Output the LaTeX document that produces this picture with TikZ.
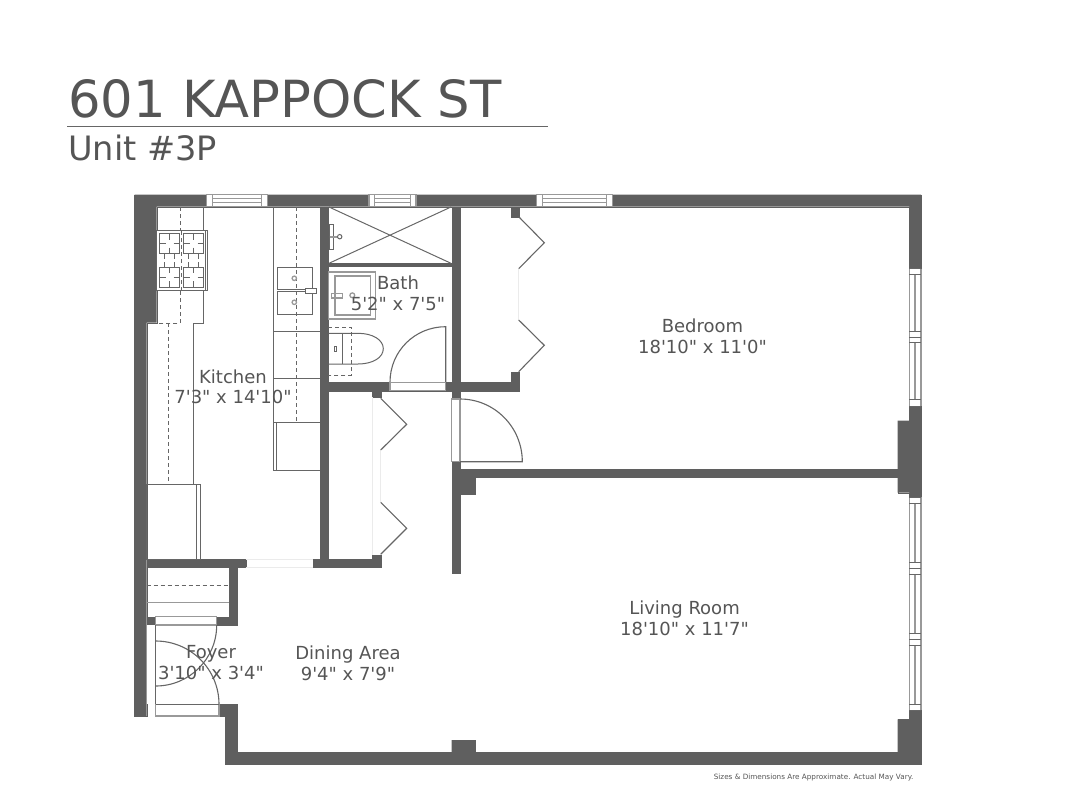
\documentclass[tikz,border=0pt]{standalone}
\usepackage{fontspec}
\setmainfont{DejaVu Sans}
\font\roomfont="DejaVu Sans" at 18pt
\newcommand{\roomtext}{\roomfont\setlength{\baselineskip}{20.5pt}}
\definecolor{wallcol}{HTML}{5F5F5F}
\definecolor{textcol}{HTML}{555555}
\definecolor{linecol}{HTML}{666666}
\definecolor{framecol}{HTML}{999999}
\tikzset{
  wall/.style={fill=wallcol,draw=wallcol,line width=0.4pt},
  fixture/.style={draw=linecol,line width=1pt},
  hidden/.style={draw=linecol,line width=0.9pt,dash pattern=on 4pt off 3pt},
  swing/.style={draw=linecol,line width=1.1pt},
  frame/.style={draw=framecol,line width=1.2pt,fill=white},
  opening/.style={draw=black!8,line width=0.5pt},
  roomlabel/.style={text=textcol,font=\roomtext,align=center}
}
\begin{document}
\begin{tikzpicture}[x=1pt,y=-1pt]
        \useasboundingbox (0,0) rectangle (1067,800);
        % heading
        \node[text=textcol,font=\fontsize{51.2}{56}\selectfont,anchor=base west,inner sep=0pt] (title) at (68,117) {601 KAPPOCK ST};
        \draw[draw=linecol,line width=0.8pt] (67,126.5) -- (548,126.5);
        \node[text=textcol,font=\fontsize{33.6}{36}\selectfont,anchor=base west,inner sep=0pt] (unit) at (68,160.5) {Unit \#3P};
        % outer walls
        \fill[wall] (134.5,194.7) -- (921,194.7) -- (921,764) -- (225.3,764) -- (225.3,716) -- (219,716)
          -- (219,704.3) -- (237.3,704.3) -- (237.3,752.3) -- (451.7,752.3) -- (451.7,740) -- (475,740)
          -- (475,752.3) -- (897.7,752.3) -- (897.7,719.3) -- (909.3,719.3) -- (909.3,492.7) -- (897.7,492.7)
          -- (897.7,420.7) -- (909.3,420.7) -- (909.3,206.7) -- (156.7,206.7) -- (156.7,322.7) -- (146.7,322.7)
          -- (146.7,716) -- (134.5,716) -- cycle;
        % inner walls
        \fill[wall] (320,206.7) rectangle (328.3,559.3);
        \fill[wall] (451.7,206.7) rectangle (460,399);
        \fill[wall] (328.3,263.3) rectangle (451.7,266);
        \fill[wall] (328.3,382.3) rectangle (518.7,390.7);
        \fill[wall] (510.7,206.7) rectangle (518.7,216.7);
        \fill[wall] (510.7,371.7) rectangle (518.7,382.3);
        \fill[wall] (372.3,390.7) rectangle (380.7,397.3);
        \fill[wall] (372.3,555) rectangle (380.7,559.3);
        \fill[wall] (312.7,559.3) rectangle (380.7,567.3);
        \fill[wall] (146.7,559.3) rectangle (245.7,567.3);
        \fill[wall] (229.3,567.3) rectangle (237.3,625);
        \fill[wall] (216.7,616.7) rectangle (229.3,625);
        \fill[wall] (146.7,616.7) rectangle (155.7,625);
        \fill[wall] (451.7,461.7) rectangle (460,573.3);
        \fill[wall] (460,469.3) rectangle (897.7,477.3);
        \fill[wall] (460,477.3) rectangle (475,494);
        % windows, top wall
        \foreach \xa/\xb in {206.7/267.3,369/416,536.7/612.3} {
          \draw[frame] (\xa,194.7) rectangle (\xb,206.7);
          \draw[draw=framecol,line width=1.2pt] (\xa+5.5,194.7) -- (\xa+5.5,206.7) (\xb-5.5,194.7) -- (\xb-5.5,206.7);
          \draw[draw=framecol,line width=1.2pt] (\xa+5.5,198.5) -- (\xb-5.5,198.5) (\xa+5.5,202.7) -- (\xb-5.5,202.7);
        }
        % windows, right wall
        \foreach \ya/\yb in {268.7/406,497.3/710} {
          \fill[white] (909.3,\ya) rectangle (921,\yb);
          \draw[draw=framecol,line width=1.6pt] (909.3,\ya) -- (909.3,\yb) (915,\ya) -- (915,\yb) (921,\ya) -- (921,\yb);
        }
        \foreach \ya/\yb in {268.7/274.3,331.3/342.7,399.3/406,497.3/503.3,562.3/574.3,633.3/645.3,704/710} {
          \fill[white] (910,\ya) rectangle (920.2,\yb);
          \draw[fixture] (909.3,\ya) -- (921,\ya) (909.3,\yb) -- (921,\yb);
        }
        \foreach \ym in {337,568.3,639.3}
          \draw[fixture] (909.3,\ym) -- (921,\ym);
        % plain openings
        \draw[opening] (245.7,559.3) -- (312.7,559.3) (245.7,567.3) -- (312.7,567.3);
        \draw[opening] (372.3,397.3) -- (372.3,555) (380.7,450) -- (380.7,502.3);
        \draw[opening] (518.7,268.7) -- (518.7,320);
        % kitchen, left run
        \draw[fixture] (203.3,206.7) -- (203.3,323.3) -- (193.3,323.3) -- (193.3,484.3);
        \draw[hidden] (180,207) -- (180,323.3) -- (156.7,323.3);
        \draw[hidden] (168.3,323.3) -- (168.3,484.3);
        \draw[fixture] (146.7,484.3) rectangle (200.3,559.3);
        \draw[fixture] (196.7,484.3) -- (196.7,559.3);
        % stove
        \fill[white] (156.7,230.7) rectangle (207.3,290.7);
        \draw[fixture] (156.7,230.7) rectangle (207.3,290.7);
        \draw[fixture] (205,230.7) -- (205,290.7);
        \draw[hidden] (181.6,231) -- (181.6,290);
        \foreach \xc in {169.6,193.6} {
          \foreach \yc/\dir in {243.6/1,277.4/-1} {
            \draw[fixture] (\xc-10,\yc-10) rectangle (\xc+10,\yc+10);
            \draw[fixture] (\xc,\yc-10) -- (\xc,\yc-4) (\xc,\yc+4) -- (\xc,\yc+10);
            \draw[fixture] (\xc-10,\yc) -- (\xc-4,\yc) (\xc+4,\yc) -- (\xc+10,\yc);
            \draw[fixture] (\xc-5,\yc+\dir*10) -- (\xc-5,\yc+\dir*15) (\xc+5,\yc+\dir*10) -- (\xc+5,\yc+\dir*15);
          }
        }
        % kitchen, right run
        \draw[fixture] (273.3,206.7) -- (273.3,470) -- (320,470);
        \draw[fixture] (273.3,331.3) -- (320,331.3) (273.3,378.3) -- (320,378.3) (273.3,422.7) -- (320,422.7);
        \draw[fixture] (276.7,422.7) -- (276.7,470);
        \draw[hidden] (296.7,207) -- (296.7,422.7);
        \draw[fixture] (277,267.3) rectangle (312.7,289.3);
        \draw[fixture] (277,291.7) rectangle (312.7,314.3);
        \draw[draw=framecol,line width=1.3pt] (294.3,278.3) circle (2.2);
        \draw[draw=framecol,line width=1.3pt] (294.3,302.3) circle (2.2);
        \draw[fixture,fill=white] (305,288.3) rectangle (316.7,293);
        % shower
        \draw[fixture] (329,207) -- (451,263.3) (451,207) -- (329,263.3);
        \draw[fixture] (329.5,224.3) rectangle (333,249.3);
        \draw[draw=framecol,line width=1.6pt] (329.5,236.7) -- (338,236.7);
        \draw[fixture] (339.7,236.7) circle (2.2);
        % bath sink
        \draw[draw=framecol,line width=1.2pt] (328.3,272) rectangle (375.3,319);
        \draw[draw=framecol,line width=1.2pt] (335,276) rectangle (370.7,315);
        \draw[draw=framecol,line width=1.3pt] (352.3,295.3) circle (2.4);
        \draw[draw=framecol,line width=1.2pt] (331.3,293.3) rectangle (342.7,298);
        % toilet
        \draw[fixture] (328.3,333.3) -- (358,333.3) .. controls (373,333.3) and (383.3,340) .. (383.3,348.7)
          .. controls (383.3,357.4) and (373,364) .. (358,364) -- (328.3,364);
        \draw[fixture] (342.3,333.3) -- (342.3,364);
        \draw[fixture] (334.3,346) rectangle (336.3,351);
        \draw[hidden] (328.3,327.7) -- (351.7,327.7) -- (351.7,375) -- (328.3,375);
        % door leaves
        \draw[swing] (390,382.3) .. controls (390,351) and (415,326.7) .. (445.7,326.7) -- (445.7,382.3);
        \draw[frame] (390,382.3) rectangle (445.7,390.7);
        \draw[frame] (451.7,399) rectangle (460,461.7);
        \draw[swing] (460,399) .. controls (494.4,399) and (522.3,427) .. (522.3,461.7) -- (460,461.7);
        % bifold closet doors
        \draw[swing] (380.7,398.3) -- (406.7,424.3) -- (380.7,450);
        \draw[swing] (380.7,502.3) -- (406.7,528.3) -- (380.7,554.3);
        \draw[swing] (518.7,216.7) -- (544.3,242.7) -- (518.7,268.7);
        \draw[swing] (518.7,320) -- (544.3,345.3) -- (518.7,371.7);
        % foyer
        \draw[hidden] (146.7,585) -- (229.3,585);
        \draw[draw=framecol,line width=1.4pt] (146.7,602.7) -- (229.3,602.7);
        \draw[frame] (155.7,616.7) rectangle (216.7,625);
        \fill[white] (146.7,625) rectangle (155.7,704.3);
        \draw[draw=framecol,line width=0.9pt] (146.7,625) -- (146.7,704.3);
        \draw[frame] (155.7,704.3) rectangle (219,716);
        \draw[swing] (155.7,625) -- (155.7,704.3);
        \draw[swing] (155.7,704.3) -- (219,704.3);
        \draw[swing] (155.7,641) .. controls (190.7,641) and (219,669.3) .. (219,704.3);
        \draw[swing] (155.7,686) .. controls (189.4,686) and (216.7,658.7) .. (216.7,625);
        % room labels
        \node[roomlabel] (kitchen) at (233,387) {Kitchen\\7'3" x 14'10"};
        \node[roomlabel] (bath) at (398,293.5) {Bath\\5'2" x 7'5"};
        \node[roomlabel] (bedroom) at (702.5,336.5) {Bedroom\\18'10" x 11'0"};
        \node[roomlabel] (living) at (684.5,618.5) {Living Room\\18'10" x 11'7"};
        \node[roomlabel] (dining) at (348,663.5) {Dining Area\\9'4" x 7'9"};
        \node[roomlabel] (foyer) at (211,662.5) {Foyer\\3'10" x 3'4"};
        \node[text=textcol,font=\fontsize{7.25}{8}\selectfont,anchor=east,inner sep=0pt] (note) at (913.5,777) {Sizes \& Dimensions Are Approximate. Actual May Vary.};
\end{tikzpicture}
\end{document}
